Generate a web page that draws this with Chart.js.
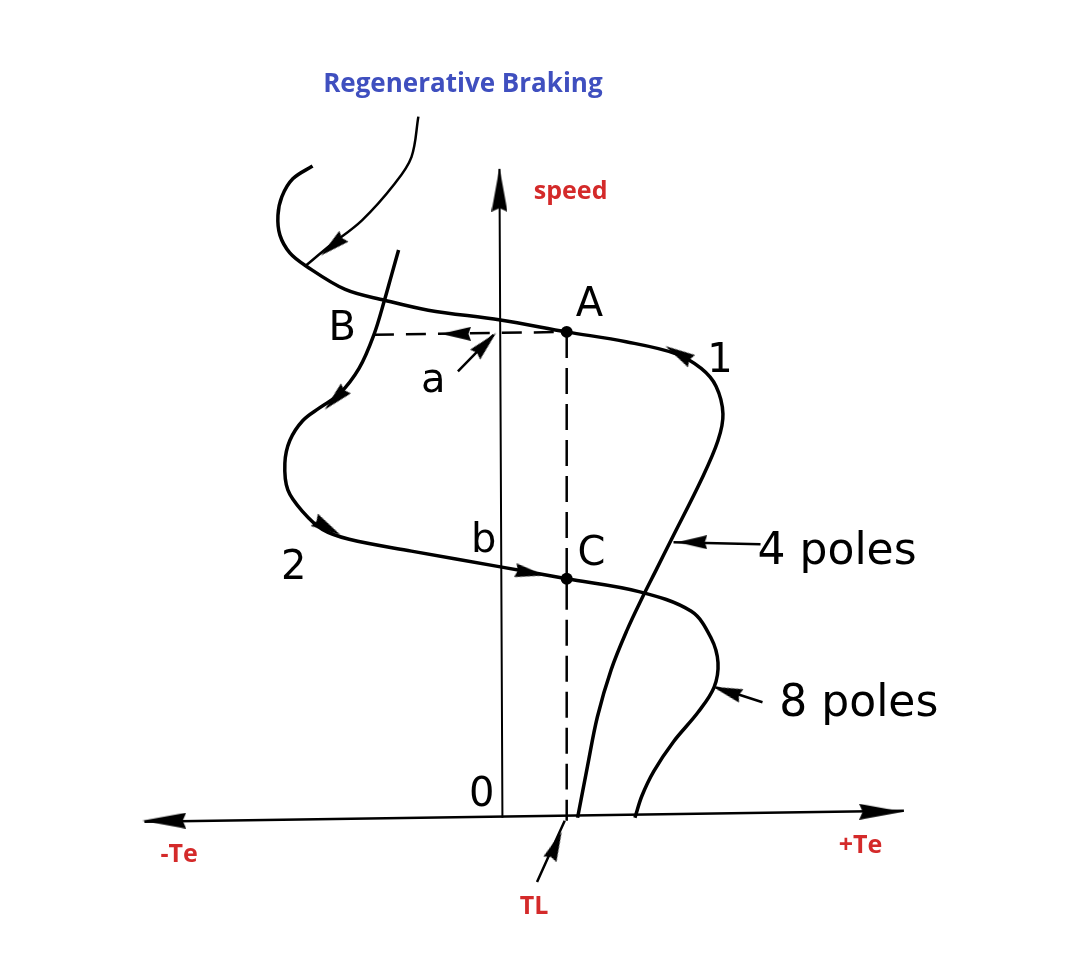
<!DOCTYPE html>
<html>
<head>
<meta charset="utf-8">
<script src="https://cdn.jsdelivr.net/npm/chart.js@4"></script>
<style>
html,body{margin:0;padding:0;background:#fff;overflow:hidden;}
#wrap{width:1080px;height:960px;position:relative;}
</style>
</head>
<body>
<div id="wrap"><canvas id="myChart"></canvas></div>
<script>
// x = torque Te, y = speed (sketch units, origin at the axis crossing)
var curve4poles=[
    [-19.2,66.0],[-21.2,64.7],[-22.3,62.9],[-22.7,61.0],[-22.5,59.0],[-21.5,57.2],
    [-19.9,55.9],[-15.9,53.5],[-11.9,52.4],[-7.5,51.4],[-0.2,50.4],[6.5,49.2],
    [12.5,48.2],[17.5,47.0],[20.1,45.5],[21.6,43.7],[22.3,40.9],[21.8,38.2],
    [20.1,34.2],[17.1,28.2],[15.6,25.2],[14.1,22.2],[12.6,19.0],[11.0,15.0],
    [9.6,10.2],[8.6,5.2],[7.6,0]
];
var curve8poles=[
    [-10.5,57.5],[-11.2,55.0],[-11.9,52.5],[-13.0,48.9],[-14.5,45.5],[-16.5,42.9],
    [-18.5,41.5],[-20.2,40.2],[-21.5,38.2],[-22.0,35.9],[-21.7,33.2],[-20.2,31.0],
    [-18.2,29.2],[-15.5,28.2],[-9.2,27.0],[-0.2,25.4],[6.5,24.2],[13.8,22.9],
    [19.1,20.9],[21.1,18.2],[21.8,15.7],[21.4,13.2],[19.8,10.7],[17.3,7.7],
    [15.3,4.7],[14.1,2.2],[13.4,0]
];
var regenPath=[[-8.5,71.0],[-9.2,66.9],[-10.9,64.2],[-14.2,60.5],[-17.5,57.9],[-19.9,55.9]];
var torqueAxis=[[-36.2,-0.4],[40.6,0.7]];
var speedAxis=[[0,0],[-0.3,65.7]];
var loadLine=[[6.5,49.2],[6.5,-0.3]];       // TL, dashed
var brakeLine=[[-13.0,48.9],[6.5,49.2]];    // A -> B, dashed
var pointsAC=[[6.5,49.2],[6.5,24.2]];
var pointerA=[[-4.5,45.2],[-0.9,48.9]];
var pointer4=[[26.1,27.7],[17.3,27.9]];
var pointer8=[[26.3,11.7],[21.6,13.2]];
var pointerTL=[[3.5,-6.5],[6.3,-0.3]];

var arrowPts=[[-17.2,57.9],[17.8,47.0],[-16.9,42.4],[-17.7,29.4],[2.8,24.8],
    [-4.7,49.0],[-1.7,48.0],[19.2,27.9],[22.7,12.8],[5.4,-2.8]];
var arrowRot=[230,300,225,120,100,270,44,270,288,23];
var axisArrowPts=[[-34.2,-0.3],[38.3,0.6],[-0.3,63.6]];
var axisArrowRot=[270,90,0];

var labels=[
    {t:'Regenerative Braking',x:-4.0,y:74.2,c:'#3f4fbf',f:'bold 26px "Open Sans"'},
    {t:'speed',x:6.9,y:63.4,c:'#d42a2a',f:'bold 25px "Open Sans"'},
    {t:'-Te',x:-32.7,y:-3.8,c:'#d42a2a',f:'bold 25px "Open Sans"'},
    {t:'+Te',x:36.2,y:-2.8,c:'#d42a2a',f:'bold 25px "Open Sans"'},
    {t:'TL',x:3.2,y:-9.0,c:'#d42a2a',f:'bold 25px "Open Sans"'},
    {t:'A',x:8.8,y:51.9},{t:'B',x:-16.2,y:49.4},{t:'a',x:-7.0,y:44.2},
    {t:'1',x:22.0,y:46.2},{t:'b',x:-1.9,y:28.0},{t:'C',x:9.0,y:26.6},
    {t:'2',x:-21.1,y:25.2},{t:'0',x:-2.1,y:2.2},
    {t:'4 poles',x:25.8,y:26.9,a:'left',f:'44px "DejaVu Sans"'},
    {t:'8 poles',x:28.0,y:11.5,a:'left',f:'44px "DejaVu Sans"'}
];

function xy(arr){ return arr.map(function(p){ return {x:p[0],y:p[1]}; }); }

function arrowHead(w,h){
    var c=document.createElement('canvas');
    c.width=w; c.height=h;
    var g=c.getContext('2d');
    g.fillStyle='#000';
    g.beginPath();
    g.moveTo(w/2,0); g.lineTo(w,h); g.lineTo(w/2,h*0.92); g.lineTo(0,h);
    g.closePath(); g.fill();
    return c;
}
var smallHead=arrowHead(14,30);
var bigHead=arrowHead(16,44);

function line(data,width,dash){
    return {
        data:xy(data), showLine:true, borderColor:'#000', borderWidth:width,
        borderDash:dash||[], pointRadius:0, tension:0.35, fill:false
    };
}

var textPlugin={
    id:'sketchText',
    afterDatasetsDraw:function(chart){
        var c=chart.ctx, sx=chart.scales.x, sy=chart.scales.y;
        c.save();
        c.textBaseline='middle';
        labels.forEach(function(l){
            c.font=l.f||'40px "DejaVu Sans"';
            c.fillStyle=l.c||'#000';
            c.textAlign=l.a||'center';
            c.fillText(l.t,sx.getPixelForValue(l.x),sy.getPixelForValue(l.y));
        });
        c.restore();
    }
};

var ctx=document.getElementById('myChart');
new Chart(ctx,{
    type:'scatter',
    data:{datasets:[
        line(torqueAxis,2.5),
        line(speedAxis,2),
        line(loadLine,2.5,[26,10]),
        line(brakeLine,2.5,[20,12]),
        line(pointerA,2.5),
        line(pointer4,2.5),
        line(pointer8,2.5),
        line(pointerTL,2.5),
        line(regenPath,2.5),
        line(curve4poles,3.5),
        line(curve8poles,3.5),
        {data:xy(pointsAC),pointRadius:6,pointBackgroundColor:'#000',pointBorderWidth:0},
        {data:xy(arrowPts),pointStyle:smallHead,pointRotation:arrowRot,pointRadius:5},
        {data:xy(axisArrowPts),pointStyle:bigHead,pointRotation:axisArrowRot,pointRadius:5}
    ]},
    options:{
        responsive:true,
        maintainAspectRatio:false,
        animation:false,
        events:[],
        layout:{padding:0},
        plugins:{legend:{display:false},tooltip:{enabled:false}},
        scales:{
            x:{type:'linear',min:-50.2,max:57.8,display:false},
            y:{type:'linear',min:-13.8,max:82.2,display:false}
        }
    },
    plugins:[textPlugin]
});
</script>
</body>
</html>
